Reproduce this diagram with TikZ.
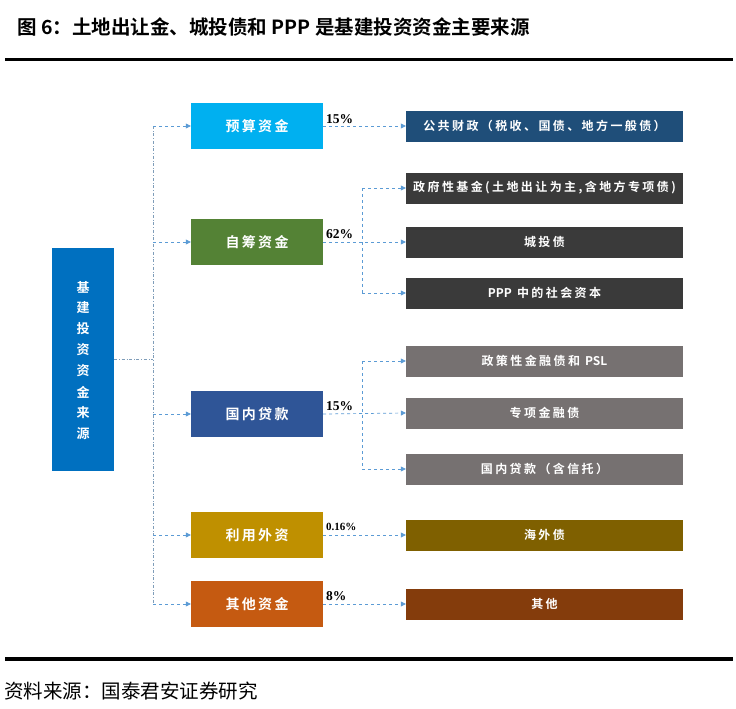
\documentclass[tikz,border=0pt]{standalone}
\usepackage{fontspec}
\usetikzlibrary{arrows.meta}
\newfontfamily\cjk{Noto Sans CJK SC}
\newfontfamily\cjkb{Noto Sans CJK SC Bold}
\newfontfamily\cjkbs[LetterSpace=20]{Noto Sans CJK SC Bold}
\newfontfamily\numfont{Liberation Serif}
\newcommand\latn[1]{{\cjkb\fontsize{12}{14}\selectfont #1}}
\definecolor{cMain}{HTML}{0070C0}
\definecolor{cYs}{HTML}{00B0F0}
\definecolor{cZc}{HTML}{548235}
\definecolor{cGn}{HTML}{2F5597}
\definecolor{cLy}{HTML}{BF9000}
\definecolor{cQt}{HTML}{C55A11}
\definecolor{cGg}{HTML}{1F4E79}
\definecolor{cDark}{HTML}{3A3A3A}
\definecolor{cGray}{HTML}{767171}
\definecolor{cHw}{HTML}{7F6000}
\definecolor{cQ}{HTML}{843C0C}
\definecolor{cLine}{HTML}{5B9BD5}
\definecolor{cTrunk}{HTML}{7F9DB9}
\begin{document}
\begin{tikzpicture}[x=1pt,y=-1pt,
  lone/.style={fill=#1,minimum width=132pt,minimum height=46pt,inner sep=0pt,text=white,font=\cjkb\fontsize{14}{16}\selectfont},
  ltwo/.style={fill=#1,minimum width=277pt,minimum height=31pt,inner sep=0pt,text=white,font=\cjkbs\fontsize{12}{14}\selectfont},
  conn/.style={draw=cLine,dashed,line width=0.7pt,-{Triangle[width=5pt,length=5pt]}},
  branch/.style={draw=cLine,dashed,line width=0.7pt},
  trunk/.style={draw=cTrunk,dash dot,line width=0.7pt},
  pct/.style={anchor=base west,inner sep=0pt,font=\numfont\bfseries\fontsize{13.5}{15}\selectfont}]
\useasboundingbox (0,0) rectangle (736,709);
\fill[white] (0,0) rectangle (736,709);
% title
\node[anchor=west,inner sep=0pt,font=\cjkb\fontsize{19.5}{22}\selectfont] (title) at (17,27) {图 6：土地出让金、城投债和 PPP 是基建投资资金主要来源};
\draw[line width=3.5pt] (5,59.5) -- (733,59.5);
\draw[line width=3.5pt] (5,659) -- (733,659);
\node[anchor=west,inner sep=0pt,font=\cjk\fontsize{19.5}{21}\selectfont] (src) at (4,691) {资料来源：国泰君安证券研究};
% main box
\node[fill=cMain,minimum width=62pt,minimum height=223pt,inner sep=0pt] (main) at (83,359.5) {};
\foreach \c [count=\i from 0] in {基,建,投,资,资,金,来,源}
  \node[text=white,font=\cjkb\fontsize{13}{14}\selectfont,inner sep=0pt] (mc\i) at (83,287+21*\i) {\c};
% level one
\node[lone=cYs] (ys) at (257,126) {预\,算\,资\,金};
\node[lone=cZc] (zc) at (257,242) {自\,筹\,资\,金};
\node[lone=cGn] (gn) at (257,414) {国\,内\,贷\,款};
\node[lone=cLy] (ly) at (257,535) {利\,用\,外\,资};
\node[lone=cQt] (qt) at (257,604) {其\,他\,资\,金};
% level two
\node[ltwo=cGg] (gg) at (544.5,126) {公共财政（税收、国债、地方一般债）};
\node[ltwo=cDark] (zf) at (544.5,188) {政府性基金(土地出让为主,含地方专项债)};
\node[ltwo=cDark] (ct) at (544.5,242) {城投债};
\node[ltwo=cDark] (pp) at (544.5,293) {\latn{PPP} 中的社会资本};
\node[ltwo=cGray] (zc2) at (544.5,361) {政策性金融债和 \latn{PSL}};
\node[ltwo=cGray] (zx) at (544.5,413) {专项金融债};
\node[ltwo=cGray] (gd) at (544.5,469) {国内贷款（含信托）};
\node[ltwo=cHw] (hw) at (544.5,535) {海外债};
\node[ltwo=cQ] (qo) at (544.5,604) {其他};
% trunk
\coordinate (tm) at (153,359.5);
\coordinate (ttop) at (153,126);
\coordinate (tbot) at (153,604);
\draw[trunk] (main.east) -- (tm);
\draw[trunk] (ttop) -- (tbot);
\foreach \n in {ys,zc,gn,ly,qt}
  \draw[conn] (ttop |- \n.west) -- (\n.west);
% level one to two
\draw[conn] (ys.east) -- (gg.west);
\draw[conn] (zc.east) -- (ct.west);
\coordinate (bz1) at (362,188);
\coordinate (bz2) at (362,293);
\draw[branch] (bz1) -- (bz2);
\draw[conn] (bz1) -- (zf.west);
\draw[conn] (bz2) -- (pp.west);
\draw[conn] (gn.east) -- (zx.west);
\coordinate (bg1) at (362,361);
\coordinate (bg2) at (362,469);
\draw[branch] (bg1) -- (bg2);
\draw[conn] (bg1) -- (zc2.west);
\draw[conn] (bg2) -- (gd.west);
\draw[conn] (ly.east) -- (hw.west);
\draw[conn] (qt.east) -- (qo.west);
% percentages
\node[pct] (p1) at (326,123) {15\%};
\node[pct] (p2) at (326,238) {62\%};
\node[pct] (p3) at (326,410) {15\%};
\node[pct,font=\numfont\bfseries\fontsize{11}{12}\selectfont] (p4) at (326,530) {0.16\%};
\node[pct] (p5) at (326,600) {8\%};
\end{tikzpicture}
\end{document}
